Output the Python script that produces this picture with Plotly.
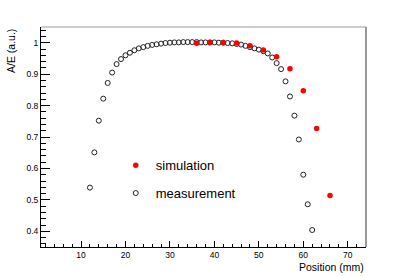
import plotly.graph_objects as go

# ---- data ----
meas_x = list(range(12, 63))
meas_y = [0.539, 0.651, 0.752, 0.822, 0.872, 0.905, 0.932, 0.948, 0.960, 0.968,
          0.976, 0.982, 0.986, 0.990, 0.993, 0.995, 0.997, 0.999, 1.000, 1.001,
          1.001, 1.002, 1.002, 1.002, 1.002, 1.001, 1.001, 1.001, 1.001, 1.000,
          1.000, 0.999, 0.998, 0.996, 0.994, 0.990, 0.986, 0.982, 0.978, 0.973,
          0.966, 0.953, 0.935, 0.916, 0.877, 0.829, 0.768, 0.692, 0.580, 0.486,
          0.404]
sim_x = [36, 39, 42, 45, 48, 51, 54, 57, 60, 63, 66]
sim_y = [0.998, 1.001, 1.001, 0.999, 0.990, 0.977, 0.955, 0.917, 0.847, 0.727, 0.514]

x_title = "Position (mm)"
y_title = "A/E (a.u.)"

FONT = "Liberation Sans, Arial, Helvetica, sans-serif"

fig = go.Figure()
fig.add_trace(go.Scatter(
    x=meas_x, y=meas_y, mode="markers", name="measurement", legendgroup="m", legendrank=2,
    marker=dict(symbol="circle-open", size=5, color="#222222", line=dict(width=1, color="#222222")),
))
fig.add_trace(go.Scatter(
    x=sim_x, y=sim_y, mode="markers", name="simulation", legendgroup="s", legendrank=1,
    marker=dict(symbol="circle", size=5.5, color="#ff0000", line=dict(width=0)),
))

fig.update_layout(
    width=407, height=276,
    margin=dict(l=41, r=41, t=27, b=29),
    paper_bgcolor="white", plot_bgcolor="white",
    font=dict(family=FONT, color="black"),
    showlegend=True,
    legend=dict(
        x=0.23, y=0.44, xanchor="left", yanchor="top",
        bgcolor="rgba(0,0,0,0)", borderwidth=0,
        traceorder="grouped", tracegroupgap=8,
        font=dict(size=13, family=FONT, color="black"),
    ),
    xaxis=dict(
        range=[1, 74.1], showgrid=False, zeroline=False,
        showline=True, linecolor="black", linewidth=1,
        ticks="inside", ticklen=6, tickwidth=1, tickcolor="black",
        dtick=10, tick0=0,
        tickfont=dict(size=8.5, family=FONT, color="black"),
        minor=dict(ticks="inside", ticklen=3, dtick=2, tick0=0, tickcolor="black", showgrid=False),
    ),
    yaxis=dict(
        range=[0.35, 1.05], showgrid=False, zeroline=False,
        showline=True, linecolor="black", linewidth=1,
        ticks="inside", ticklen=9, tickwidth=1, tickcolor="black",
        dtick=0.1, tick0=0,
        tickfont=dict(size=8.5, family=FONT, color="black"),
        minor=dict(ticks="inside", ticklen=4.5, dtick=0.02, tick0=0, tickcolor="black", showgrid=False),
    ),
    shapes=[
        dict(type="line", xref="paper", yref="paper", x0=0, x1=1, y0=1, y1=1,
             line=dict(color="#999999", width=1)),
        dict(type="line", xref="paper", yref="paper", x0=1, x1=1, y0=0, y1=1,
             line=dict(color="#999999", width=2)),
    ],
    annotations=[
        dict(text=x_title, xref="paper", yref="paper", x=1, y=0, xanchor="right", yanchor="top",
             yshift=-12, showarrow=False, font=dict(size=10.5, family=FONT, color="black")),
        dict(text=y_title, xref="paper", yref="paper", x=0, y=1, xanchor="right", yanchor="top",
             xshift=-22, textangle=-90, showarrow=False, font=dict(size=10.5, family=FONT, color="black")),
    ],
)

fig.write_html("out.html", config={"displayModeBar": False},
               post_script="document.body.style.margin='0';document.body.style.overflow='hidden';")
